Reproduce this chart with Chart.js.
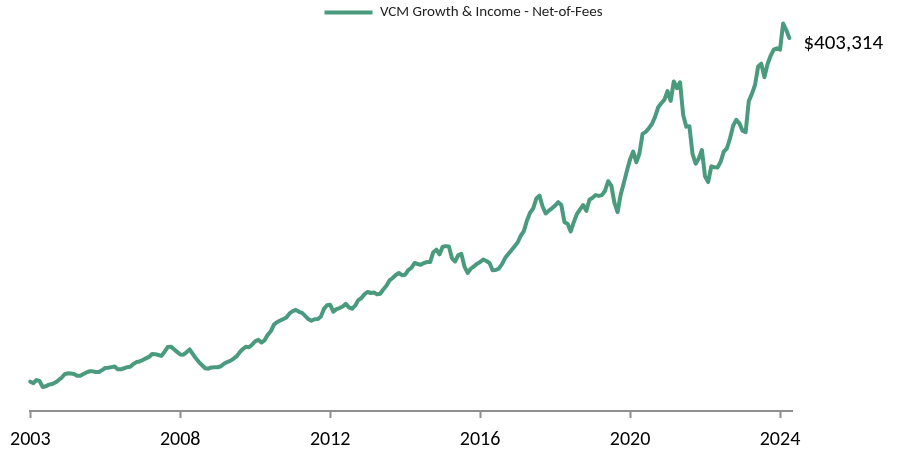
<!DOCTYPE html>
<html>
<head>
<meta charset="utf-8">
<title>VCM Growth &amp; Income</title>
<script src="https://cdn.jsdelivr.net/npm/chart.js@4.4.1/dist/chart.umd.min.js"></script>
<style>
  html, body { margin: 0; padding: 0; background: #fff; }
  #wrap { width: 900px; height: 453px; position: relative; }
</style>
</head>
<body>
<div id="wrap"><canvas id="growthChart"></canvas></div>
<script>
'use strict';

//--------------------DATA
let seriesLabel = 'VCM Growth & Income - Net-of-Fees';
let tickYears = ['2003', '2008', '2012', '2016', '2020', '2024'];
let monthsPerTick = 48;

// month-end account value
let fundValues = [
  31700, 30100, 33500, 32200, 26000, 26800, 28500, 29200, 30800, 33200,
  35900, 39800, 40700, 40500, 40100, 38100, 38100, 39900, 41700, 42900,
  42900, 42100, 42200, 44200, 46500, 46700, 47400, 48100, 45100, 45100,
  46200, 47400, 47900, 50800, 52900, 53600, 55100, 56900, 58500, 61600,
  61500, 60600, 59600, 64100, 69100, 69600, 66700, 63900, 61100, 60900,
  63400, 66600, 61700, 57000, 52900, 49500, 46200, 45800, 47100, 47300,
  47300, 48400, 51100, 52900, 54200, 56400, 59000, 63300, 67000, 69400,
  69000, 71700, 75400, 77100, 74100, 76400, 82400, 86200, 93500, 96000,
  97900, 99400, 101200, 105600, 107900, 109400, 107300, 106100, 102900, 99400,
  97600, 99200, 99400, 101900, 110400, 114300, 114900, 107500, 110200, 111300,
  113000, 115900, 112000, 110600, 113900, 119900, 122200, 126300, 128700, 127600,
  128100, 126100, 126800, 131400, 135400, 141200, 143800, 147100, 149300, 146800,
  147400, 152400, 154700, 160000, 159000, 158100, 160000, 161100, 161100, 171700,
  174400, 169300, 177700, 178300, 177900, 165100, 161700, 168600, 169900, 156100,
  149300, 153800, 156400, 159100, 161100, 163900, 162200, 160100, 152200, 152400,
  154000, 158800, 165400, 169800, 173700, 177900, 182200, 189300, 194500, 206000,
  214400, 219200, 229800, 232900, 221200, 213600, 216700, 219200, 222100, 225800,
  222700, 204200, 202500, 194200, 204400, 213200, 218100, 222700, 216400, 228500,
  230500, 233500, 232600, 233500, 238200, 248500, 243700, 225000, 215000, 234000,
  246500, 259800, 272100, 280500, 269000, 278400, 299700, 301900, 305700, 310300,
  318100, 328400, 332700, 336700, 346000, 335300, 356400, 349000, 355500, 320200,
  307500, 308000, 278000, 267400, 273000, 282200, 253700, 247600, 264600, 263700,
  263400, 269500, 280500, 284100, 294900, 308400, 314800, 311000, 303200, 301500,
  335100, 342900, 352500, 372500, 375600, 361000, 375000, 384100, 390700, 392200,
  390700, 419000, 412000, 403314
];

//--------------------STYLE
let lineGreen = '#4a9a7e';
let axisGrey = '#8f8f8f';
let fontFamily = 'Carlito, Calibri, Lato, sans-serif';

//--------------------END VALUE LABEL
let endLabel = {
  id: 'endLabel',
  afterDatasetsDraw(chart) {
    let points = chart.getDatasetMeta(0).data;
    let last = points[points.length - 1];
    let value = fundValues[fundValues.length - 1];
    let ctx = chart.ctx;
    ctx.save();
    ctx.font = '21px ' + fontFamily;
    ctx.fillStyle = '#000';
    ctx.textBaseline = 'middle';
    ctx.fillText('$' + value.toLocaleString('en-US'), last.x + 14, last.y + 6);
    ctx.restore();
  }
};

//--------------------CHART
let canvasElem = document.getElementById('growthChart');

new Chart(canvasElem, {
  type: 'line',
  data: {
    datasets: [
      {
        label: seriesLabel,
        data: fundValues.map((v, i) => ({ x: i, y: v })),
        borderColor: lineGreen,
        backgroundColor: lineGreen,
        borderWidth: 4,
        borderJoinStyle: 'round',
        borderCapStyle: 'round',
        pointRadius: 0,
        tension: 0,
        clip: false,
      },
    ],
  },
  options: {
    responsive: true,
    maintainAspectRatio: false,
    animation: false,
    layout: { padding: { left: 30, right: 3, top: 0, bottom: 0 } },
    plugins: {
      legend: {
        position: 'top',
        labels: {
          boxWidth: 48,
          boxHeight: 4,
          padding: 5,
          color: '#222',
          font: { size: 15, family: fontFamily },
          generateLabels(chart) {
            let items = Chart.defaults.plugins.legend.labels.generateLabels(chart);
            items.forEach((item) => { item.lineWidth = 0; });
            return items;
          },
        },
      },
      tooltip: { enabled: false },
    },
    scales: {
      x: {
        type: 'linear',
        min: 0,
        max: 244,
        grid: {
          display: true,
          drawOnChartArea: false,
          drawTicks: true,
          tickLength: 7,
          tickWidth: 2,
          tickColor: axisGrey,
        },
        border: { display: true, color: axisGrey, width: 2 },
        ticks: {
          stepSize: monthsPerTick,
          includeBounds: false,
          autoSkip: false,
          maxRotation: 0,
          padding: 10,
          color: '#000',
          font: { size: 20, family: fontFamily },
          callback: (value) => tickYears[value / monthsPerTick],
        },
        afterFit(scale) { scale.height = 42; },
      },
      y: {
        position: 'right',
        min: 0,
        max: 412000,
        grid: { display: false },
        border: { display: false },
        ticks: { display: false },
        afterFit(scale) { scale.width = 104.5; },
      },
    },
  },
  plugins: [endLabel],
});
</script>
</body>
</html>
